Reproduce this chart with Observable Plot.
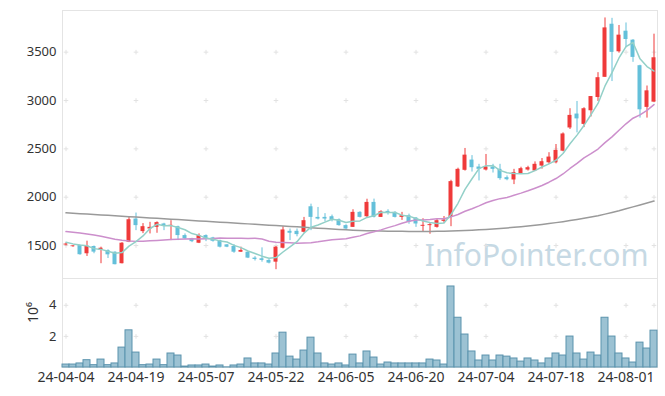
<!DOCTYPE html>
<html><head><meta charset="utf-8">
<script src="https://cdn.jsdelivr.net/npm/d3@7"></script>
<script src="https://cdn.jsdelivr.net/npm/@observablehq/plot@0.6"></script>
<style>
body{margin:0;background:#fff;}
#chart{width:665px;height:396px;position:relative;}
#chart svg{display:block;}
</style></head><body><div id="chart"></div>
<script>
const dates = ["24-04-04","24-04-05","24-04-08","24-04-09","24-04-11","24-04-12","24-04-15","24-04-16","24-04-17","24-04-18",
"24-04-19","24-04-22","24-04-23","24-04-24","24-04-25","24-04-26","24-04-29","24-04-30","24-05-02","24-05-03",
"24-05-07","24-05-08","24-05-09","24-05-10","24-05-13","24-05-14","24-05-16","24-05-17","24-05-20","24-05-21",
"24-05-22","24-05-23","24-05-24","24-05-27","24-05-28","24-05-29","24-05-30","24-05-31","24-06-03","24-06-04",
"24-06-05","24-06-07","24-06-10","24-06-11","24-06-12","24-06-13","24-06-14","24-06-17","24-06-18","24-06-19",
"24-06-20","24-06-21","24-06-24","24-06-25","24-06-26","24-06-27","24-06-28","24-07-01","24-07-02","24-07-03",
"24-07-04","24-07-05","24-07-08","24-07-09","24-07-10","24-07-11","24-07-12","24-07-15","24-07-16","24-07-17",
"24-07-18","24-07-19","24-07-22","24-07-23","24-07-24","24-07-25","24-07-26","24-07-29","24-07-30","24-07-31",
"24-08-01","24-08-02","24-08-05","24-08-06","24-08-07"];

const open = [1505,1488,1500,1415,1490,1449,1449,1431,1312,1534,
1774,1644,1671,1688,1723,1699,1695,1603,1569,1524,
1603,1579,1551,1507,1490,1431,1431,1370,1363,1346,
1328,1472,1647,1647,1637,1901,1791,1791,1798,1767,
1706,1688,1843,1798,1946,1791,1853,1843,1791,1808,
1784,1699,1706,1688,1750,1791,2106,2278,2384,2312,
2281,2312,2288,2202,2178,2243,2281,2271,2322,2356,
2356,2476,2716,2860,2753,2894,3031,3240,3789,3504,
3717,3624,3360,2929,2983];
const high = [1525,1500,1505,1545,1495,1483,1455,1435,1530,1798,
1836,1727,1740,1745,1730,1757,1700,1620,1575,1620,
1610,1585,1555,1510,1510,1483,1435,1385,1476,1355,
1490,1695,1671,1671,1791,1928,1894,1830,1815,1775,
1715,1870,1850,1979,1980,1860,1870,1850,1843,1825,
1790,1777,1737,1770,1800,2175,2300,2504,2430,2340,
2442,2340,2340,2220,2288,2310,2320,2365,2400,2460,
2545,2665,2915,2990,2925,3041,3288,3854,3850,3776,
3802,3630,3365,3150,3686];
const low = [1495,1482,1400,1387,1415,1312,1366,1300,1310,1530,
1654,1623,1620,1627,1654,1551,1551,1560,1530,1520,
1540,1535,1475,1478,1420,1428,1365,1340,1328,1310,
1250,1465,1551,1590,1630,1654,1765,1745,1745,1700,
1660,1688,1785,1790,1785,1791,1815,1785,1760,1720,
1688,1643,1617,1680,1730,1695,2100,2270,2260,2168,
2271,2250,2175,2170,2130,2235,2270,2265,2290,2340,
2345,2470,2700,2665,2720,2830,2990,3240,3196,3490,
3545,3395,2818,2818,2983];
const close = [1515,1496,1405,1493,1432,1472,1404,1302,1524,1767,
1706,1695,1688,1737,1699,1709,1603,1569,1540,1603,
1569,1544,1483,1483,1431,1449,1370,1356,1346,1318,
1483,1661,1627,1613,1757,1791,1774,1774,1764,1706,
1671,1843,1791,1946,1791,1849,1832,1791,1808,1740,
1723,1709,1716,1757,1764,2161,2288,2435,2305,2288,
2312,2288,2192,2181,2254,2295,2305,2340,2367,2415,
2484,2654,2846,2810,2915,3041,3236,3751,3498,3676,
3631,3446,2904,3100,3442];
// volume in units of 10^6
const volume = [0.19,0.19,0.26,0.47,0.15,0.51,0.15,0.26,1.28,2.39,
0.96,0.15,0.19,0.51,0.15,0.90,0.77,0.06,0.13,0.13,
0.19,0.06,0.13,0.01,0.13,0.19,0.58,0.26,0.26,0.19,
0.90,2.24,0.70,0.51,1.09,1.92,0.90,0.26,0.19,0.26,
0.13,0.83,0.26,1.03,0.64,0.19,0.32,0.26,0.26,0.26,
0.26,0.26,0.51,0.45,0.19,5.21,3.20,2.12,1.03,0.45,
0.77,0.45,0.77,0.70,0.58,0.38,0.58,0.45,0.26,0.58,
0.90,0.77,1.99,0.90,0.51,0.96,0.77,3.20,1.99,0.90,
0.58,0.32,1.60,1.22,2.37];
const ma5 = [1534,1517,1505,1498,1468,1460,1441,1421,1427,1494,
1541,1599,1676,1719,1705,1706,1687,1663,1624,1605,
1577,1565,1548,1536,1502,1478,1443,1418,1390,1368,
1375,1433,1487,1540,1628,1690,1712,1742,1772,1762,
1738,1752,1755,1791,1808,1844,1842,1842,1814,1804,
1779,1754,1739,1729,1734,1821,1937,2081,2191,2295,
2326,2326,2277,2252,2245,2242,2245,2275,2312,2344,
2382,2452,2553,2642,2742,2853,2970,3151,3288,3440,
3558,3600,3431,3351,3305];
const ma20 = [1644,1638,1630,1620,1608,1595,1580,1565,1555,1547,
1543,1545,1549,1553,1558,1562,1565,1568,1570,1568,
1571,1573,1577,1576,1576,1575,1574,1576,1567,1545,
1534,1532,1529,1523,1526,1530,1538,1549,1560,1565,
1570,1585,1600,1624,1642,1662,1685,1706,1730,1751,
1763,1765,1769,1777,1777,1796,1821,1854,1881,1910,
1942,1965,1985,1997,2020,2042,2066,2093,2121,2155,
2193,2240,2297,2349,2407,2451,2498,2564,2624,2693,
2759,2817,2852,2898,2958];
const ma120 = [1838,1834,1829,1825,1820,1816,1812,1807,1803,1798,
1794,1790,1785,1781,1776,1772,1768,1763,1759,1754,
1750,1746,1741,1737,1732,1728,1724,1719,1715,1710,
1706,1702,1697,1693,1688,1684,1680,1675,1671,1666,
1662,1659,1656,1654,1652,1650,1649,1648,1647,1646,
1646,1646,1646,1647,1648,1650,1652,1655,1658,1662,
1666,1671,1676,1682,1688,1695,1702,1710,1718,1727,
1737,1747,1758,1770,1782,1795,1809,1825,1842,1860,
1880,1900,1920,1940,1960];

const priceTicks = [1500,2000,2500,3000,3500];
const volumeTicks = [2,4];
const dateTicks = dates.filter((d,i)=>i%10===0);

const rows = dates.map((date,i)=>({date, open:open[i], high:high[i], low:low[i], close:close[i],
  volume:volume[i], ma5:ma5[i], ma20:ma20[i], ma120:ma120[i], up: close[i]>=open[i]}));

const W = 665, ML = 62, MR = 8;
const UP = "#ef3a3a", DOWN = "#64c0da";
const gridX = [...dateTicks, dates[dates.length-1]];
const baseStyle = {fontFamily:"'Noto Sans', sans-serif", fontSize:"13px", color:"#333", background:"none", overflow:"visible"};

const price = Plot.plot({
  width: W, height: 278, marginTop: 10, marginBottom: 0, marginLeft: ML, marginRight: MR,
  style: baseStyle,
  color: {type: "identity"},
  x: {type: "band", domain: dates, padding: 0, axis: null},
  y: {domain: [1159, 3931], ticks: priceTicks, tickFormat: d=>String(d), tickSize: 0, tickPadding: 6, label: null},
  marks: [
    Plot.text(["InfoPointer.com"], {text: d=>d, frameAnchor: "bottom-right", dx: -9, dy: -13, lineAnchor: "bottom", textAnchor: "end", fontSize: 30, fill: "#c6d9e4"}),
    Plot.dot(d3.cross(gridX, priceTicks), {x: d=>d[0], y: d=>d[1], symbol: "plus", r: 1.6, stroke: "#e2e2e2", strokeWidth: 1}),
    Plot.frame({stroke: "#e4e4e4"}),
    Plot.ruleX(rows, {x: "date", y1: "low", y2: "high", stroke: d=>d.up?UP:DOWN, strokeWidth: 1}),
    Plot.barY(rows, {x: "date", y1: "open", y2: "close", fill: d=>d.up?UP:DOWN, insetLeft: 1.5, insetRight: 1.5}),
    Plot.lineY(rows, {x: "date", y: "ma120", stroke: "#9a9a9a", strokeWidth: 1.5}),
    Plot.lineY(rows, {x: "date", y: "ma20", stroke: "#cc8fcc", strokeWidth: 1.5}),
    Plot.lineY(rows, {x: "date", y: "ma5", stroke: "#93d0c8", strokeWidth: 1.5})
  ]
});

const vol = Plot.plot({
  width: W, height: 118, marginTop: 0, marginBottom: 29, marginLeft: ML, marginRight: MR,
  style: baseStyle,
  x: {type: "band", domain: dates, padding: 0, axis: null},
  y: {domain: [0, 89/15.55], ticks: volumeTicks, tickFormat: d=>String(d), tickSize: 0, tickPadding: 6, label: null},
  marks: [
    Plot.dot(d3.cross(gridX, volumeTicks), {x: d=>d[0], y: d=>d[1], symbol: "plus", r: 1.6, stroke: "#e2e2e2", strokeWidth: 1}),
    Plot.frame({stroke: "#e4e4e4"}),
    Plot.barY(rows, {x: "date", y: "volume", fill: "#9cc2d3", stroke: "#5b93ad", strokeWidth: 1}),
    Plot.axisX({ticks: dateTicks, tickSize: 0, tickPadding: 5, fontSize: 14, label: null}),
    Plot.text(["10⁶"], {text: d=>d, frameAnchor: "left", dx: -29, rotate: -90, fontSize: 14, fill: "#333"})
  ]
});

const el = document.getElementById("chart");
el.append(price, vol);
</script>
</body></html>
